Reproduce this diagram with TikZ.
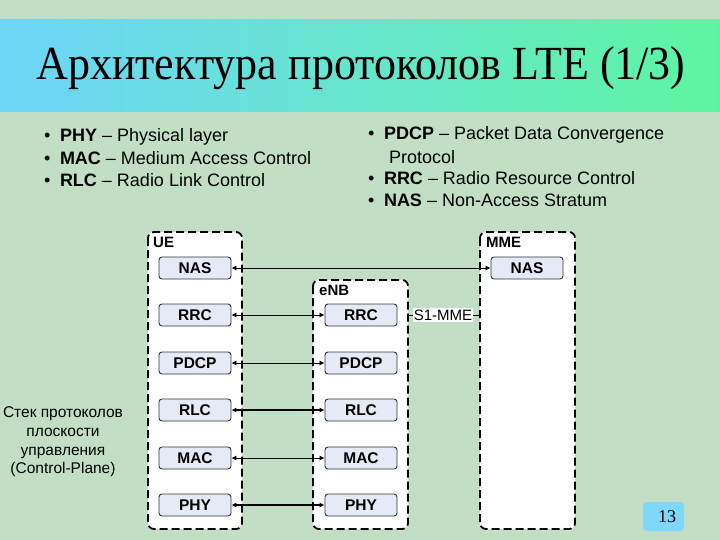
\documentclass[tikz,border=0pt]{standalone}
\usepackage{fontspec}
\setmainfont{Liberation Serif}
\newfontfamily\arialf{Liberation Sans}
\usetikzlibrary{arrows.meta}
\definecolor{bgc}{HTML}{C2DFC6}
\definecolor{tl}{HTML}{6DD5F8}
\definecolor{tr}{HTML}{5EF5A2}
\definecolor{boxf}{HTML}{E6EAF6}
\definecolor{pgf}{HTML}{7FD8FA}
\tikzset{
  layer/.style={draw=black!80, fill=boxf, rounded corners=3pt, line width=0.9pt,
    minimum width=72pt, minimum height=22pt, font=\arialf\bfseries\fontsize{15.5}{18}\selectfont, inner sep=0pt},
  entity/.style={draw=black, fill=white, rounded corners=6pt, line width=1.8pt, dash pattern=on 8pt off 4pt},
  elabel/.style={anchor=north west, font=\arialf\bfseries\fontsize{15}{18}\selectfont, inner sep=0pt},
  link/.style={{Latex[length=5pt,width=5pt]}-{Latex[length=5pt,width=5pt]}, line width=0.8pt},
  thicklink/.style={link, line width=1.8pt},
  bul/.style={anchor=west, font=\arialf\fontsize{18}{21}\selectfont, inner sep=0pt}
}
\begin{document}
\begin{tikzpicture}[x=1pt,y=-1pt]
\useasboundingbox (0,0) rectangle (720,540);
\fill[bgc] (0,0) rectangle (720,540);
\shade[left color=tl, right color=tr] (0,20) rectangle (720,112);
\node[font=\fontsize{44}{50}\selectfont, inner sep=0pt, yscale=1.08] (title) at (361,68) {Архитектура протоколов LTE (1/3)};

% bullets
\node[bul] (b1) at (44,137) {•\hspace{9.5pt}\textbf{PHY} – Physical layer};
\node[bul] (b2) at (44,158) {•\hspace{9.5pt}\textbf{MAC} – Medium Access Control};
\node[bul] (b3) at (44,180) {•\hspace{9.5pt}\textbf{RLC} – Radio Link Control};
\node[bul] (b4) at (368,135) {•\hspace{9.5pt}\textbf{PDCP} – Packet Data Convergence};
\node[bul] (b5) at (389,157) {Protocol};
\node[bul] (b6) at (368,178) {•\hspace{9.5pt}\textbf{RRC} – Radio Resource Control};
\node[bul] (b7) at (368,200) {•\hspace{9.5pt}\textbf{NAS} – Non-Access Stratum};

% entities
\draw[entity] (148,232) rectangle (242,529);
\draw[entity] (313,280) rectangle (408,529);
\draw[entity] (480,232) rectangle (575,529);
\node[elabel] (ue) at (153,237) {UE};
\node[elabel] (enb) at (319,285) {eNB};
\node[elabel] (mme) at (486,237) {MME};

% layers
\node[layer] (uenas) at (195,268) {NAS};
\node[layer] (uerrc) at (195,315) {RRC};
\node[layer] (uepdcp) at (195,363) {PDCP};
\node[layer] (uerlc) at (195,410) {RLC};
\node[layer] (uemac) at (195,458) {MAC};
\node[layer] (uephy) at (195,505) {PHY};

\node[layer] (enbrrc) at (361,315) {RRC};
\node[layer] (enbpdcp) at (361,363) {PDCP};
\node[layer] (enbrlc) at (361,410) {RLC};
\node[layer] (enbmac) at (361,458) {MAC};
\node[layer] (enbphy) at (361,505) {PHY};

\node[layer] (mmenas) at (527,268) {NAS};

% links
\draw[link] (uenas) -- (mmenas);
\draw[link] (uerrc) -- (enbrrc);
\draw[link] (uepdcp) -- (enbpdcp);
\draw[thicklink] (uerlc) -- (enbrlc);
\draw[link] (uemac) -- (enbmac);
\draw[thicklink] (uephy) -- (enbphy);

% S1-MME
\coordinate (s1a) at (408,315);
\coordinate (s1b) at (480,315);
\draw[line width=0.8pt] (s1a) -- (s1b);
\node[fill=white, inner xsep=1pt, inner ysep=2pt, font=\arialf\fontsize{15}{18}\selectfont] (s1) at (443,315) {S1-MME};

% side label
\node[align=center, font=\arialf\fontsize{15.5}{18.7}\selectfont, inner sep=0pt] (cp) at (63,442) {Стек протоколов\\плоскости\\управления\\(Control-Plane)};

% page number
\fill[pgf, rounded corners=4pt] (643,502) rectangle (684,531);
\node[font=\fontsize{18}{21}\selectfont, inner sep=0pt] (pn) at (667,517) {13};
\end{tikzpicture}
\end{document}
